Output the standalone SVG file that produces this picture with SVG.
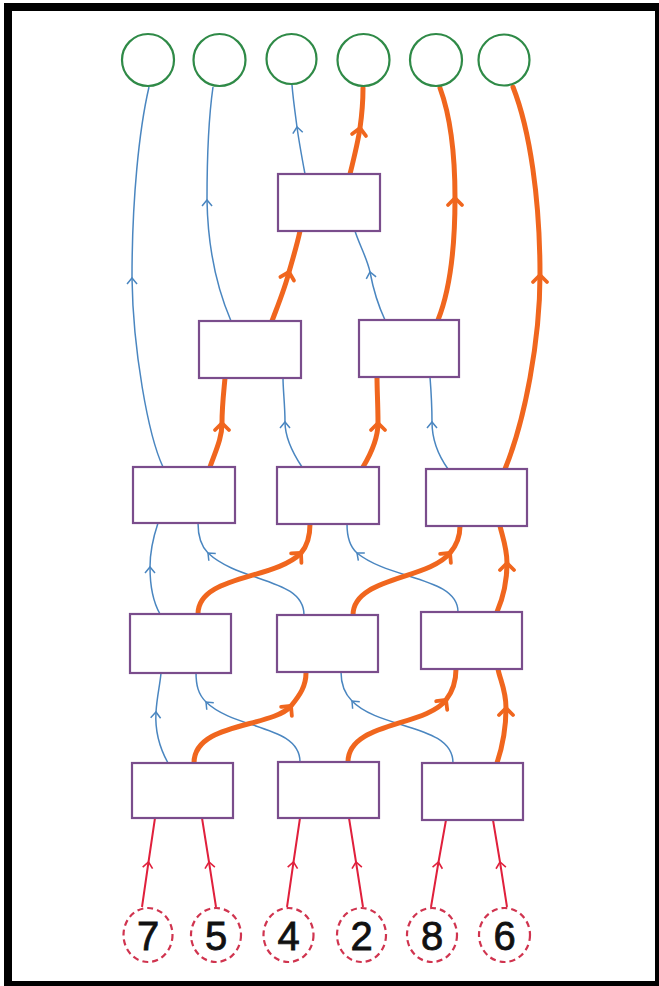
<svg xmlns="http://www.w3.org/2000/svg" width="659" height="986" viewBox="0 0 659 986">
<style>
.box{fill:#fff;stroke:#7a4d8c;stroke-width:2.2}
.out{fill:#fff;stroke:#2f8a47;stroke-width:2.2}
.inp{fill:#fff;stroke:#d0344f;stroke-width:2.2;stroke-dasharray:6 4}
.num{font-family:"Liberation Sans","DejaVu Sans",sans-serif;font-size:40px;fill:#111;stroke:#111;stroke-width:0.8;text-anchor:middle}
.b{fill:none;stroke:#4a86c0;stroke-width:1.5;marker-mid:url(#ab)}
.o{fill:none;stroke:#f0661e;stroke-width:5;stroke-linecap:round;marker-mid:url(#ao)}
.r{fill:none;stroke:#e0203c;stroke-width:2;marker-mid:url(#ar)}
</style>
<defs>
<marker id="ab" markerUnits="userSpaceOnUse" viewBox="-10 -10 20 20" markerWidth="20" markerHeight="20" refX="0" refY="0" orient="auto"><path d="M-6,-5 L0,0 L-6,5" fill="none" stroke="#4a86c0" stroke-width="1.5"/></marker>
<marker id="ao" markerUnits="userSpaceOnUse" viewBox="-12 -12 24 24" markerWidth="24" markerHeight="24" refX="0" refY="0" orient="auto"><path d="M-7,-7 L0,0 L-7,7" fill="none" stroke="#f0661e" stroke-width="3.8" stroke-linecap="round" stroke-linejoin="round"/></marker>
<marker id="ar" markerUnits="userSpaceOnUse" viewBox="-10 -10 20 20" markerWidth="20" markerHeight="20" refX="0" refY="0" orient="auto"><path d="M-6,-5 L0,0 L-6,5" fill="none" stroke="#e0203c" stroke-width="1.6"/></marker>
</defs>
<rect x="0" y="0" width="659" height="986" fill="#fff"/>
<rect x="8" y="7" width="651" height="978" fill="none" stroke="#000" stroke-width="8"/>
<g id="connectors">
<path class="r" d="M142,907 L148.5,862 L155,818"/>
<path class="r" d="M216,907 L209,862 L202,818"/>
<path class="r" d="M287,907 L293.5,862 L300,818"/>
<path class="r" d="M363,907 L356,862 L349,818"/>
<path class="r" d="M431,907 L438.5,862 L446,820"/>
<path class="r" d="M507,907 L500,862 L493,820"/>
<path class="b" d="M168,763 C158,745 155,728 156,712 C157,696 160,685 161,673"/>
<path class="b" d="M300,762 C300,725 235,730 206,702 C198,694 196,685 196,672"/>
<path class="b" d="M453,763 C453,724 380,730 352,701 C345,694 341,685 341,672"/>
<path class="o" d="M194,763 C194,722 272,728 291,706 C300,695 306,686 306,673"/>
<path class="o" d="M348,762 C348,722 425,727 446,700 C453,691 456,682 456,669"/>
<path class="o" d="M497,763 C503,745 506,725 506,708 C506,690 500,680 498,669"/>
<path class="b" d="M160,614 C152,600 150,585 150,567 C150,550 154,535 158,523"/>
<path class="b" d="M304,615 C304,578 240,583 208,553 C200,545 198,535 198,523"/>
<path class="b" d="M458,612 C458,577 390,580 357,553 C349,546 347,536 347,524"/>
<path class="o" d="M198,614 C198,575 275,580 301,553 C308,545 310,535 310,524"/>
<path class="o" d="M353,615 C353,577 428,580 450,553 C456,546 460,537 460,526"/>
<path class="o" d="M497,612 C503,598 507,580 507,563 C507,548 502,535 500,526"/>
<path class="b" d="M163,467 C148,435 133,350 132,278 C132,200 139,130 149,87"/>
<path class="b" d="M302,467 C292,452 285,438 285,422 C285,405 283,390 283,378"/>
<path class="b" d="M448,469 C438,455 432,438 432,422 C432,405 431,390 430,377"/>
<path class="o" d="M210,467 C216,450 222,438 222,423 C222,405 224,390 225,378"/>
<path class="o" d="M363,467 C372,452 378,438 378,423 C378,405 377,390 377,377"/>
<path class="o" d="M505,469 C525,420 540,340 540,275 C540,200 530,130 513,87"/>
<path class="b" d="M231,321 C222,300 208,260 207,200 C207,150 209,115 213,87"/>
<path class="b" d="M385,320 C378,305 373,288 370,272 C367,258 359,244 355,231"/>
<path class="o" d="M272,321 C278,305 285,288 289,272 C293,258 297,245 300,231"/>
<path class="o" d="M438,320 C450,290 455,250 455,198 C455,150 450,115 440,88"/>
<path class="b" d="M305,174 C302,158 299,142 297,127 C295,112 293,98 292,85"/>
<path class="o" d="M350,174 C354,158 358,142 360,128 C362,114 363,100 363,88"/>
</g>
<g id="out1"><circle class="out" cx="148" cy="60" r="26"/></g>
<g id="out2"><circle class="out" cx="219.5" cy="60" r="26"/></g>
<g id="out3"><circle class="out" cx="291.5" cy="59" r="25"/></g>
<g id="out4"><circle class="out" cx="363.5" cy="60" r="26"/></g>
<g id="out5"><circle class="out" cx="436" cy="60" r="26"/></g>
<g id="out6"><circle class="out" cx="504" cy="60" r="25.5"/></g>
<g id="e1"><rect class="box" x="278" y="174" width="102" height="57"/></g>
<g id="d1"><rect class="box" x="199" y="321" width="102" height="57"/></g>
<g id="d2"><rect class="box" x="359" y="320" width="100" height="57"/></g>
<g id="c1"><rect class="box" x="133" y="467" width="102" height="56"/></g>
<g id="c2"><rect class="box" x="277" y="467" width="102" height="57"/></g>
<g id="c3"><rect class="box" x="426" y="469" width="101" height="57"/></g>
<g id="b1"><rect class="box" x="130" y="614" width="101" height="59"/></g>
<g id="b2"><rect class="box" x="277" y="615" width="101" height="57"/></g>
<g id="b3"><rect class="box" x="421" y="612" width="101" height="57"/></g>
<g id="a1"><rect class="box" x="132" y="763" width="101" height="55"/></g>
<g id="a2"><rect class="box" x="278" y="762" width="101" height="56"/></g>
<g id="a3"><rect class="box" x="422" y="763" width="101" height="57"/></g>
<g id="in7"><ellipse class="inp" cx="148" cy="935" rx="24.5" ry="27"/><text class="num" x="148" y="950">7</text></g>
<g id="in5"><ellipse class="inp" cx="216" cy="935" rx="25" ry="27"/><text class="num" x="216" y="950">5</text></g>
<g id="in4"><ellipse class="inp" cx="288.5" cy="935" rx="25" ry="27"/><text class="num" x="288.5" y="950">4</text></g>
<g id="in2"><ellipse class="inp" cx="361.5" cy="935" rx="24.5" ry="27"/><text class="num" x="361.5" y="950">2</text></g>
<g id="in8"><ellipse class="inp" cx="432" cy="935" rx="25" ry="27"/><text class="num" x="432" y="950">8</text></g>
<g id="in6"><ellipse class="inp" cx="504.5" cy="935" rx="25.5" ry="27"/><text class="num" x="504.5" y="950">6</text></g>
</svg>
